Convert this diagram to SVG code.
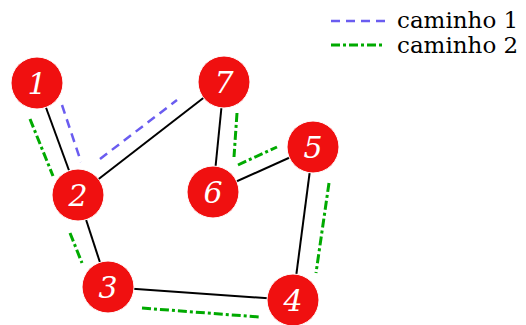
<svg xmlns="http://www.w3.org/2000/svg" width="526" height="325" viewBox="0 0 526 325">
<style>
.edge{stroke:#000;stroke-width:2;fill:none}
.p1{stroke:#6a5cf0;stroke-width:2.5;stroke-dasharray:9,6;fill:none}
.p2{stroke:#00aa00;stroke-width:3;stroke-dasharray:9,3,3,3;fill:none}
.node circle{fill:#f01010;stroke:#fff;stroke-width:1}
.node text{font-family:'DejaVu Serif',serif;font-style:italic;font-size:30px;fill:#fff;text-anchor:middle}
.leg{font-family:'DejaVu Serif',serif;font-size:23px;fill:#000}
</style>
<rect width="526" height="325" fill="#fff"/>
<g id="connectors">
<line class="edge" x1="37" y1="83" x2="78" y2="195"/>
<line class="edge" x1="78" y1="195" x2="224" y2="82"/>
<line class="edge" x1="224" y1="82" x2="213" y2="192"/>
<line class="edge" x1="213" y1="192" x2="313" y2="147"/>
<line class="edge" x1="313" y1="147" x2="293" y2="300"/>
<line class="edge" x1="293" y1="300" x2="108" y2="287"/>
<line class="edge" x1="108" y1="287" x2="78" y2="195"/>
<polyline class="p1" points="62,105 81,162"/>
<polyline class="p1" points="100,159 177,100"/>
<polyline class="p2" points="30,119 53,176"/>
<polyline class="p2" points="70,233 82,263"/>
<polyline class="p2" points="142,308 259,317"/>
<polyline class="p2" points="329,183 316,273"/>
<polyline class="p2" points="237,113 234,157"/>
<polyline class="p2" points="238,165 277,147"/>
</g>
<g id="node1" class="node"><circle cx="37" cy="83" r="26"/><text x="37" y="94">1</text></g>
<g id="node2" class="node"><circle cx="78" cy="195" r="26"/><text x="78" y="206">2</text></g>
<g id="node3" class="node"><circle cx="108" cy="287" r="26"/><text x="108" y="298">3</text></g>
<g id="node4" class="node"><circle cx="293" cy="300" r="26"/><text x="293" y="311">4</text></g>
<g id="node5" class="node"><circle cx="313" cy="147" r="26"/><text x="313" y="158">5</text></g>
<g id="node6" class="node"><circle cx="213" cy="192" r="26"/><text x="213" y="203">6</text></g>
<g id="node7" class="node"><circle cx="224" cy="82" r="26"/><text x="224" y="93">7</text></g>
<g id="legend">
<line class="p1" x1="331" y1="21" x2="385" y2="21"/>
<text class="leg" x="397" y="28">caminho 1</text>
<line class="p2" x1="331" y1="45" x2="385" y2="45"/>
<text class="leg" x="397" y="53">caminho 2</text>
</g>
</svg>
